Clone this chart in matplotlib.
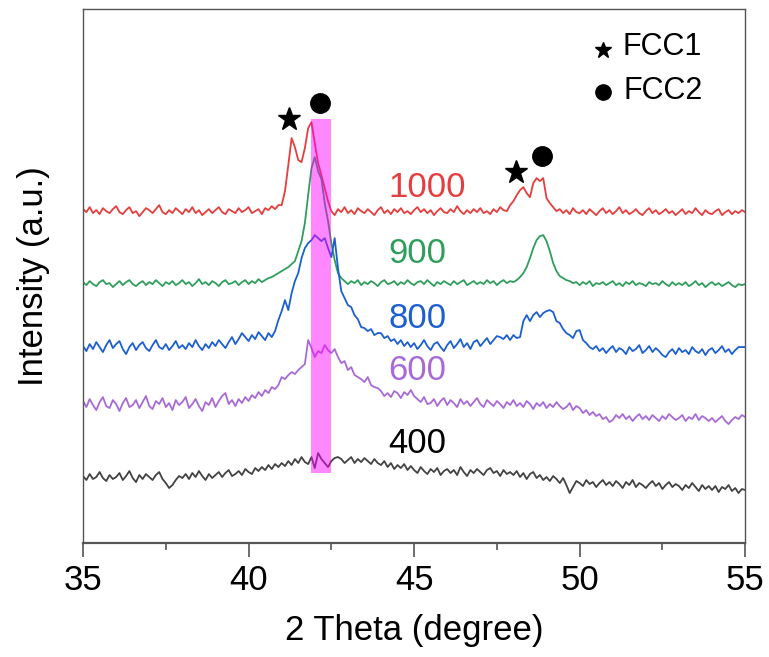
import numpy as np
import matplotlib.pyplot as plt
from matplotlib.patches import Rectangle

plt.rcParams['font.family'] = ['Liberation Sans', 'DejaVu Sans']

# 2 theta grid, 0.1 degree steps
theta = np.round(np.arange(350, 551) * 0.1, 1)

# intensities (a.u., already offset for stacking)
i1000 = [334,331,336,330,333,329,335,332,330,334,
         337,331,329,333,336,330,332,327,331,335,
         333,330,334,338,331,329,333,330,335,332,
         329,334,331,336,330,333,328,331,334,330,
         333,336,331,329,334,332,330,335,331,333,
         336,330,332,334,329,335,333,337,334,338,
         338,352,378,405,396,383,381,395,415,421,
         400,380,368,355,342,332,328,334,331,336,
         330,333,329,335,332,330,334,331,328,333,
         336,330,333,329,334,331,335,330,332,329,
         333,336,331,334,330,333,328,332,335,331,
         330,334,331,337,332,329,333,330,334,331,
         335,330,332,329,334,331,336,333,332,338,
         342,348,353,356,350,346,360,365,362,365,
         345,340,336,332,334,330,333,329,335,331,
         330,333,329,334,331,328,332,335,330,333,
         329,332,336,330,333,329,331,334,330,328,
         332,335,330,333,329,331,334,330,332,328,
         331,334,329,332,330,335,331,328,333,330,
         329,332,334,328,331,333,329,332,330,333,
         331]

i900 = [261,258,262,259,257,261,263,259,260,256,
        259,262,258,261,263,259,257,260,262,258,
        261,259,263,260,257,261,259,262,258,260,
        263,259,261,257,260,264,259,261,258,262,
        260,257,261,263,259,260,262,258,261,263,
        259,262,260,264,261,263,265,266,268,270,
        272,274,276,279,282,292,302,320,348,375,
        386,372,364,340,322,300,283,270,265,262,
        259,262,260,263,258,261,259,262,260,257,
        261,263,259,260,262,258,261,259,263,260,
        258,261,262,259,263,260,257,261,259,262,
        260,258,262,259,261,263,258,260,262,259,
        261,259,263,260,262,258,261,263,260,262,
        261,263,266,270,276,285,295,303,307,308,
        302,292,280,272,267,265,263,262,260,261,
        258,261,259,262,257,260,259,261,258,260,
        262,258,260,257,261,259,262,258,260,259,
        257,261,259,260,258,262,259,257,261,258,
        260,258,261,257,259,262,258,260,256,259,
        261,258,260,257,259,261,258,256,259,258,
        259]

i800 = [197,192,199,194,201,196,191,198,203,195,
        199,202,194,189,196,200,193,198,201,195,
        192,198,203,196,194,199,193,197,202,195,
        198,194,200,196,203,197,193,199,195,201,
        197,203,199,195,201,206,199,204,210,206,
        202,208,204,211,207,203,210,206,212,223,
        232,243,233,250,262,270,285,295,300,303,
        308,305,302,305,295,286,305,275,252,245,
        238,236,228,224,216,215,212,214,208,210,
        210,205,207,202,204,199,203,197,201,196,
        200,194,198,203,197,193,199,201,196,192,
        198,202,195,199,204,196,200,194,201,203,
        197,201,205,199,203,207,206,204,208,203,
        208,205,206,222,228,222,228,231,226,230,
        232,233,231,222,220,214,210,208,205,212,
        213,203,200,196,194,197,192,195,190,194,
        197,191,195,193,189,196,192,194,198,190,
        193,197,191,195,192,188,186,191,194,189,
        195,191,193,189,196,192,190,194,188,193,
        195,190,193,197,191,194,189,193,196,196,
        196]

i600 = [142,136,144,138,133,141,146,137,135,143,
        139,132,140,145,136,138,143,135,141,147,
        137,134,142,139,145,136,140,133,143,138,
        141,146,135,139,144,137,132,141,138,145,
        136,142,147,150,139,143,137,144,140,146,
        142,148,145,151,147,153,150,156,154,158,
        166,164,168,171,169,173,176,179,203,195,
        186,192,190,198,193,190,194,186,180,182,
        173,176,168,166,164,161,166,158,156,155,
        152,147,150,146,152,150,145,151,148,153,
        147,144,141,146,139,140,144,137,142,145,
        138,143,140,136,144,139,142,137,141,145,
        139,136,143,140,137,142,139,135,141,138,
        143,137,140,136,142,139,134,140,137,141,
        135,139,136,141,137,134,136,140,133,137,
        135,130,133,128,131,127,129,124,126,121,
        123,128,125,129,124,127,122,126,129,124,
        127,123,128,125,122,127,124,129,126,123,
        125,128,122,126,124,129,123,127,125,122,
        125,121,124,127,122,119,123,126,124,128,
        126]

i400 = [67,63,69,64,66,71,65,62,68,64,
        66,70,63,67,72,65,61,68,64,69,
        66,63,68,71,64,60,55,58,63,67,
        65,69,64,70,66,72,67,63,69,65,
        68,71,66,70,73,67,69,72,68,74,
        71,69,75,72,76,73,78,74,79,76,
        80,77,82,78,84,80,86,81,79,86,
        75,90,84,80,76,82,85,86,84,80,
        83,86,80,84,81,85,82,79,84,80,
        78,82,76,80,74,78,75,79,73,77,
        73,70,76,72,69,74,71,75,68,72,
        74,70,73,68,76,71,67,73,70,74,
        71,68,73,75,70,72,67,73,69,71,
        68,72,66,70,64,69,71,65,68,63,
        66,62,67,64,60,65,58,50,56,62,
        60,57,63,59,61,56,60,63,58,61,
        57,62,59,55,61,58,63,56,60,58,
        55,59,62,57,60,54,58,61,56,59,
        57,53,58,55,60,56,52,58,54,57,
        53,57,51,56,54,58,52,55,50,54,
        53]

labels = ['1000', '900', '800', '600', '400']
colors = ['#e53e3e', '#2f9e5c', '#1c5fd0', '#a86ad6', '#424242']
label_colors = ['#e53e3e', '#2f9e5c', '#1c5fd0', '#a86ad6', '#000000']
label_y = [356, 290, 225, 173, 100]

# peak markers
fcc1_x = [41.23, 48.07]
fcc1_y = [424, 371]
fcc2_x = [42.17, 48.86]
fcc2_y = [440, 387]

fig = plt.figure(figsize=(7.69, 6.57), dpi=100)
ax = fig.add_axes([0.108, 0.1735, 0.861, 0.8125])

for y, c in zip([i1000, i900, i800, i600, i400], colors):
    ax.plot(theta, y, color=c, lw=1.3)

# highlighted band
ax.add_patch(Rectangle((41.9, 70), 0.6, 354, facecolor='magenta',
                       alpha=0.47, edgecolor='none', zorder=5))

for lab, c, yy in zip(labels, label_colors, label_y):
    ax.text(44.23, yy, lab, color=c, fontsize=25, ha='left', va='center')

ax.plot(fcc1_x, fcc1_y, '*', color='k', ms=17, ls='none')
ax.plot(fcc2_x, fcc2_y, 'o', color='k', ms=14, ls='none')

# legend drawn by hand
ax.plot([50.70], [493], '*', color='k', ms=12)
ax.text(51.28, 496, 'FCC1', fontsize=22, va='center', ha='left')
ax.plot([50.70], [451], 'o', color='k', ms=11)
ax.text(51.31, 452, 'FCC2', fontsize=22, va='center', ha='left')

ax.set_xlim(35, 55)
ax.set_ylim(0, 534)
ax.set_xticks([35, 40, 45, 50, 55])
ax.set_xticks([37.5, 42.5, 47.5, 52.5], minor=True)
ax.set_yticks([])
ax.tick_params(axis='x', which='major', length=10, width=1.2, labelsize=25,
               color='#555555', pad=5)
ax.tick_params(axis='x', which='minor', length=5, width=1.2, color='#555555')
for s in ['top', 'right', 'left']:
    ax.spines[s].set_color('#555555')
    ax.spines[s].set_linewidth(1.0)
ax.spines['bottom'].set_color('#555555')
ax.spines['bottom'].set_linewidth(1.6)

ax.set_xlabel('2 Theta (degree)', fontsize=25, labelpad=12)
ax.set_ylabel('Intensity (a.u.)', fontsize=25, labelpad=24)

fig.savefig('out.png', dpi=100)
